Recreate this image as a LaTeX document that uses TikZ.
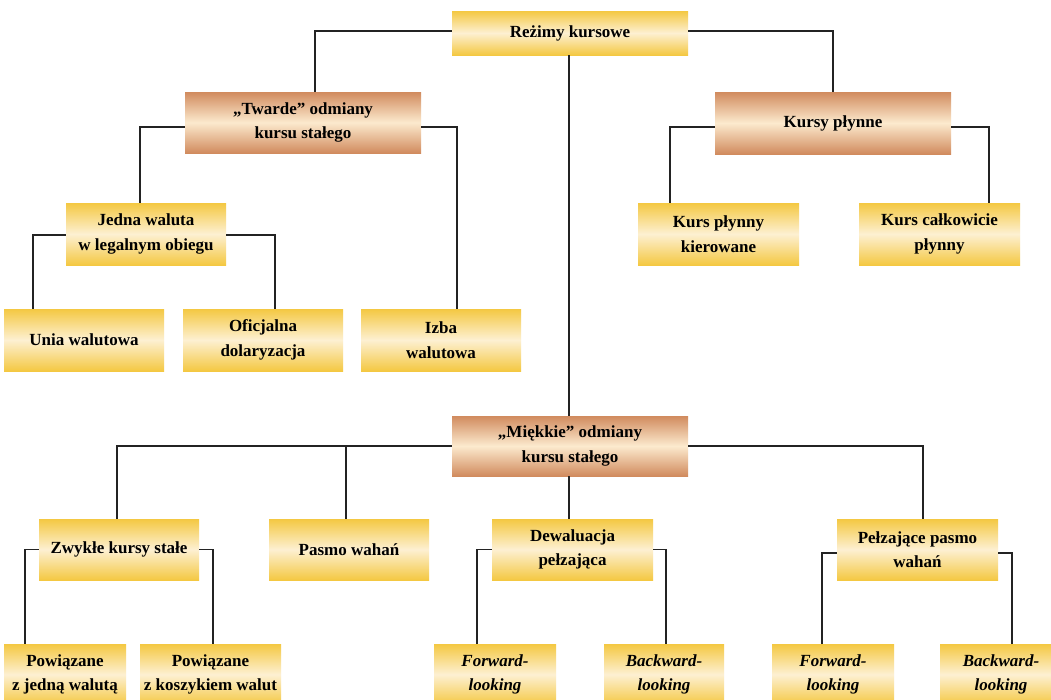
\documentclass[tikz,border=0pt]{standalone}
\usepackage{fontspec}
\setmainfont{Liberation Serif}
\definecolor{ygold}{RGB}{244,200,66}
\definecolor{ycream}{RGB}{253,240,210}
\definecolor{bcopper}{RGB}{209,139,94}
\definecolor{bcream}{RGB}{252,234,206}
\definecolor{lin}{RGB}{35,35,35}
\tikzset{
  boxbase/.style={rectangle, inner sep=0pt, align=center,
    font=\fontsize{17}{24.5}\selectfont\bfseries, text=black},
  ybox/.style={boxbase, top color=ygold, bottom color=ygold, middle color=ycream},
  bbox/.style={boxbase, top color=bcopper, bottom color=bcopper, middle color=bcream},
  conn/.style={draw=lin, line width=1.3pt}
}
\begin{document}
\begin{tikzpicture}[x=1pt,y=-1pt]
\useasboundingbox (0,0) rectangle (1051,699);
\fill[white] (0,0) rectangle (1051,699);
\clip (0,0) rectangle (1051,699);

% level 0
\node[ybox, minimum width=236, minimum height=44] (rk) at (570,33) {Reżimy kursowe};
% level 1
\node[bbox, minimum width=236, minimum height=61] (tw) at (303,122.5) {„Twarde” odmiany\\kursu stałego};
\node[bbox, minimum width=236, minimum height=62] (kp) at (833,123) {Kursy płynne};
\node[bbox, minimum width=236, minimum height=60] (mk) at (570,446) {„Miękkie” odmiany\\kursu stałego};
% level 2
\node[ybox, minimum width=160, minimum height=62] (jw) at (146,234) {Jedna waluta\\w legalnym obiegu};
\node[ybox, minimum width=161, minimum height=62] (kpk) at (718.5,234) {Kurs płynny\\kierowane};
\node[ybox, minimum width=161, minimum height=62] (kcp) at (939.5,234) {Kurs całkowicie\\płynny};
\node[ybox, minimum width=160, minimum height=62] (un) at (84,340) {Unia walutowa};
\node[ybox, minimum width=160, minimum height=62] (od) at (263,340) {Oficjalna\\dolaryzacja};
\node[ybox, minimum width=160, minimum height=62] (iz) at (441,340) {Izba\\walutowa};
% soft row
\node[ybox, minimum width=160, minimum height=61] (zw) at (119,549.5) {Zwykłe kursy stałe};
\node[ybox, minimum width=160, minimum height=61] (pw) at (349,549.5) {Pasmo wahań};
\node[ybox, minimum width=161, minimum height=61] (dw) at (572.5,549.5) {Dewaluacja\\pełzająca};
\node[ybox, minimum width=161, minimum height=61] (pz) at (917.5,549.5) {Pełzające pasmo\\wahań};
% bottom row
\node[ybox, minimum width=122, minimum height=61] (pj) at (65,674.5) {Powiązane\\z jedną walutą};
\node[ybox, minimum width=141, minimum height=61] (pk) at (210.5,674.5) {Powiązane\\z koszykiem walut};
\node[ybox, minimum width=122, minimum height=61] (fd) at (495,674.5) {\itshape Forward-\\\itshape looking};
\node[ybox, minimum width=120, minimum height=61] (bd) at (664,674.5) {\itshape Backward-\\\itshape looking};
\node[ybox, minimum width=122, minimum height=61] (fp) at (833,674.5) {\itshape Forward-\\\itshape looking};
\node[ybox, minimum width=122, minimum height=61] (bp) at (1001,674.5) {\itshape Backward-\\\itshape looking};

% connectors
\draw[conn] ([yshift=2]rk.west) -| ([xshift=12]tw.north);
\draw[conn] ([yshift=2]rk.east) -| (kp.north);
\draw[conn] ([xshift=-1]rk.south) -- ([xshift=-1]mk.north);

\draw[conn] ([yshift=-4.5]tw.west) -| ([xshift=-6]jw.north);
\draw[conn] ([yshift=-4.5]tw.east) -| ([xshift=16]iz.north);
\draw[conn] ([yshift=-4]kp.west) -| ([xshift=-48.5]kpk.north);
\draw[conn] ([yshift=-4]kp.east) -| ([xshift=49.5]kcp.north);

\draw[conn] ([yshift=-1]jw.west) -| ([xshift=-51]un.north);
\draw[conn] ([yshift=-1]jw.east) -| ([xshift=12]od.north);

\draw[conn] (mk.west) -| ([xshift=-2]zw.north);
\draw[conn] ([xshift=-3]pw.north |- mk.west) -- ([xshift=-3]pw.north);
\draw[conn] (mk.east) -| ([xshift=5.5]pz.north);
\draw[conn] ([xshift=-1]mk.south) -- ([xshift=-1]mk.south |- dw.north);

\draw[conn] (zw.west) -| ([xshift=-40]pj.north);
\draw[conn] (zw.east) -| ([xshift=2.5]pk.north);
\draw[conn] (dw.west) -| ([xshift=-18]fd.north);
\draw[conn] (dw.east) -| ([xshift=2]bd.north);
\draw[conn] ([yshift=-3.5]pz.west) -| ([xshift=-11]fp.north);
\draw[conn] ([yshift=-3.5]pz.east) -| ([xshift=11]bp.north);
\end{tikzpicture}
\end{document}
